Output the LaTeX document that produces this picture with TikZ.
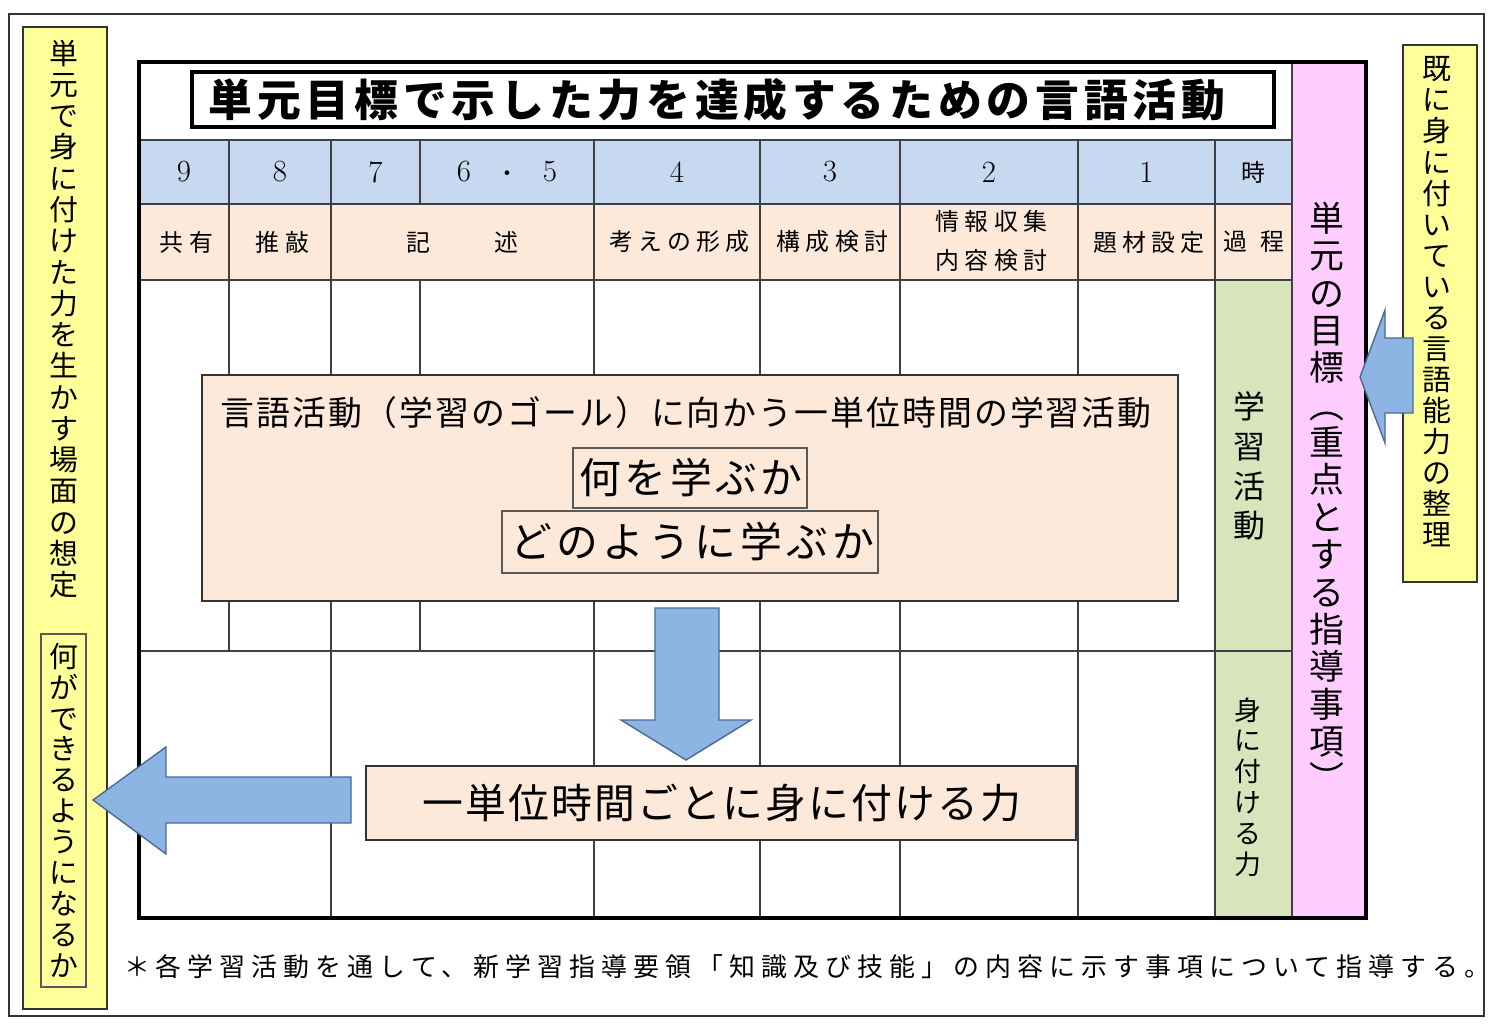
\documentclass[tikz,border=0pt]{standalone}
\usepackage{fontspec}
\usetikzlibrary{fit}
\newfontfamily\jp{Noto Sans CJK JP}
\newcommand\fs[2]{\fontsize{\fpeval{#1*0.5669}pt}{\fpeval{#2*0.5669}pt}\selectfont}
\newcommand\ls[1]{\addfontfeatures{LetterSpace=#1}}
\ExplSyntaxOn
\seq_new:N \l_vt_seq
\NewDocumentCommand\vt{m}{
  \seq_clear:N \l_vt_seq
  \tl_map_inline:nn {#1} { \seq_put_right:Nn \l_vt_seq {##1} }
  \seq_use:Nn \l_vt_seq { \\ }
}
\ExplSyntaxOff
\definecolor{yel}{HTML}{FFFF99}
\definecolor{hdr}{HTML}{C6D9F1}
\definecolor{pch}{HTML}{FDE9D9}
\definecolor{grn}{HTML}{D8E4BC}
\definecolor{pnk}{HTML}{FFCCFF}
\definecolor{arr}{HTML}{8DB4E2}
\definecolor{arrd}{HTML}{4A6A95}
\begin{document}
\begin{tikzpicture}[x=0.02cm,y=-0.02cm,
  every node/.style={inner sep=0pt, outer sep=0pt},
  gridline/.style={draw=black!75, line width=0.6pt},
  framebox/.style={draw=black!80, line width=0.8pt},
  ybox/.style={draw=black!80, fill=yel, line width=0.9pt},
  pbox/.style={draw=black!80, fill=pch, line width=0.9pt},
  tbox/.style={draw=black!65, line width=0.6pt},
  vtxt/.style={align=center, text=black},
  blockarrow/.style={fill=arr, draw=arrd, line width=0.8pt, line join=miter},
  hnum/.style={font=\fs{31}{31}},
  rtxt/.style={font=\jp\fs{24}{40}\ls{22}, align=center},
]
\useasboundingbox (0,0) rectangle (1500,1026);
\fill[white] (0,0) rectangle (1500,1026);
% outer frame
\node[framebox, fit={(9,14)(1484,1016)}] (outer) {};

% left yellow box
\node[ybox, fit={(23,27)(107,1009)}] (leftbox) {};
\node[vtxt, font=\jp\fs{29}{31.4}] (lefttxt) at (64,319) {\vt{単元で身に付けた力を生かす場面の想定}};
\node[tbox, fit={(41,634)(86,987)}] (canbox) {};
\node[vtxt, font=\jp\fs{29}{31}] (cantxt) at (64,810) {\vt{何ができるようになるか}};

% right yellow box
\node[ybox, fit={(1403,45)(1477,582)}] (rightbox) {};
\node[vtxt, font=\jp\fs{29}{31.2}] (righttxt) at (1437,302) {\vt{既に身に付いている言語能力の整理}};

% table fills
\fill[pnk] (1292,62) rectangle (1366,918);
\fill[hdr] (139,140) rectangle (1292,204);
\fill[pch] (139,204) rectangle (1292,280);
\fill[grn] (1215,280) rectangle (1292,918);

% grid lines
\foreach \yy in {140,204,280,651} \draw[gridline] (139,\yy) -- (1292,\yy);
\draw[gridline] (229,140) -- (229,651);
\draw[gridline] (420,140) -- (420,204);
\draw[gridline] (420,280) -- (420,651);
\foreach \xx in {331,594,760,900,1078,1215} \draw[gridline] (\xx,140) -- (\xx,918);
\draw[gridline] (1292,62) -- (1292,918);
% thick border
\draw[black, line width=1.8pt] (139,62) rectangle (1366,918);

% title
\node[draw=black, line width=2.2pt, fit={(192,72)(1274,127)}] (titlebox) {};
\node[font=\jp\bfseries\fs{44}{44}\ls{11}] (title) at (717,100) {単元目標で示した力を達成するための言語活動};

% header row
\node[hnum] (h9) at (184,172) {9};
\node[hnum] (h8) at (280,172) {8};
\node[hnum] (h7) at (375.5,172) {7};
\node[hnum] (h65) at (507,172) {6\hspace{0.5cm}{\jp\fs{22}{22}・}\hspace{0.5cm}5};
\node[hnum] (h4) at (677,172) {4};
\node[hnum] (h3) at (830,172) {3};
\node[hnum] (h2) at (989,172) {2};
\node[hnum] (h1) at (1146.5,172) {1};
\node[font=\jp\fs{24}{24}] (hji) at (1253.5,172) {時};

% process row
\node[rtxt] (p9) at (186.5,242) {共有};
\node[rtxt] (p8) at (282.5,242) {推敲};
\node[font=\jp\fs{24}{24}] (p7) at (462.5,242) {記\hspace{1.28cm}述};
\node[rtxt] (p4) at (679.5,242) {考えの形成};
\node[rtxt] (p3) at (832.5,242) {構成検討};
\node[rtxt] (p2) at (991.5,241) {情報収集\\内容検討};
\node[rtxt] (p1) at (1149,242) {題材設定};
\node[font=\jp\fs{24}{24}] (pk) at (1253.5,242) {過\hspace{0.26cm}程};

% green column texts
\node[vtxt, font=\jp\fs{32}{40}] (gk1) at (1249,466) {\vt{学習活動}};
\node[vtxt, font=\jp\fs{27}{31}] (gk2) at (1248,787) {\vt{身に付ける力}};

% pink column text
\node[vtxt, font=\jp\fs{35}{37.5}] (goal) at (1327,497) {\vt{単元の目標︵重点とする指導事項︶}};

% upper box
\node[pbox, fit={(202,375)(1178,601)}] (upper) {};
\node[font=\jp\fs{34}{34}\ls{6}] (uptxt) at (686,413) {言語活動（学習のゴール）に向かう一単位時間の学習活動};
\node[tbox, fit={(573,448)(807,508)}] (whatbox) {};
\node[font=\jp\fs{42}{42}\ls{8}] (what) at (691,478) {何を学ぶか};
\node[tbox, fit={(502,511)(878,573)}] (howbox) {};
\node[font=\jp\fs{42}{42}\ls{10}] (how) at (692,542) {どのように学ぶか};

% lower box
\node[pbox, fit={(366,766)(1076,840)}] (lower) {};
\node[font=\jp\fs{41}{41}\ls{5}] (lowtxt) at (722,803) {一単位時間ごとに身に付ける力};

% block arrows
\draw[blockarrow] (655,608) -- (719,608) -- (719,720) -- (751,720) -- (686,760) -- (621,720) -- (655,720) -- cycle;
\draw[blockarrow] (351,777) -- (166,777) -- (166,747) -- (93,800) -- (166,854) -- (166,823) -- (351,823) -- cycle;
\draw[blockarrow] (1413,338) -- (1385,338) -- (1385,310) -- (1360,377) -- (1385,443) -- (1385,413) -- (1413,413) -- cycle;

% footnote
\node[anchor=west, font=\jp\fs{26}{26}\ls{23.5}] (note) at (124,967) {＊各学習活動を通して、新学習指導要領「知識及び技能」の内容に示す事項について指導する。};
\end{tikzpicture}
\end{document}
